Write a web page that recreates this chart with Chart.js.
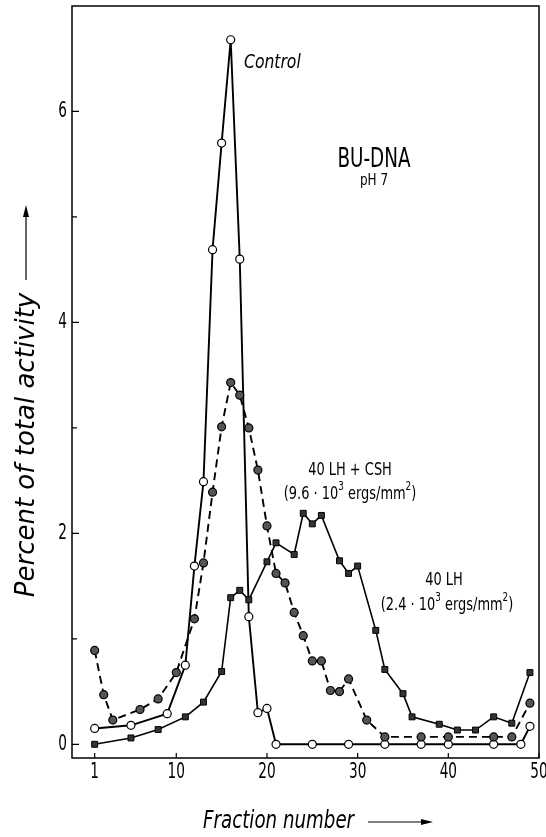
<!DOCTYPE html>
<html>
<head>
<meta charset="utf-8">
<script src="https://cdn.jsdelivr.net/npm/chart.js@4"></script>
<style>
  html, body { margin: 0; padding: 0; background: #fff; }
  #wrap { width: 546px; height: 837px; position: relative; }
</style>
</head>
<body>
<div id="wrap"><canvas id="c"></canvas></div>
<script>
// fraction numbers + percent of total activity
const controlX = [1, 5, 9, 11, 12, 13, 14, 15, 16, 17, 18, 19, 20, 21, 25, 29, 33, 37, 40, 45, 48, 49];
const controlY = [0.15, 0.18, 0.29, 0.75, 1.69, 2.49, 4.69, 5.70, 6.68, 4.60, 1.21, 0.30, 0.34, 0, 0, 0, 0, 0, 0, 0, 0, 0.17];

const csh40X = [1, 2, 3, 6, 8, 10, 12, 13, 14, 15, 16, 17, 18, 19, 20, 21, 22, 23, 24, 25, 26, 27, 28, 29, 31, 33, 37, 40, 45, 47, 49];
const csh40Y = [0.89, 0.47, 0.23, 0.33, 0.43, 0.68, 1.19, 1.72, 2.39, 3.01, 3.43, 3.31, 3.00, 2.60, 2.07, 1.62, 1.53, 1.25, 1.03, 0.79, 0.79, 0.51, 0.50, 0.62, 0.23, 0.07, 0.07, 0.07, 0.07, 0.07, 0.39];

const lh40X = [1, 5, 8, 11, 13, 15, 16, 17, 18, 20, 21, 23, 24, 25, 26, 28, 29, 30, 32, 33, 35, 36, 39, 41, 43, 45, 47, 49];
const lh40Y = [0.0, 0.06, 0.14, 0.26, 0.40, 0.69, 1.39, 1.46, 1.37, 1.73, 1.91, 1.80, 2.19, 2.09, 2.17, 1.74, 1.62, 1.69, 1.08, 0.71, 0.48, 0.26, 0.19, 0.135, 0.135, 0.26, 0.20, 0.68];

const xTicks = [1, 10, 20, 30, 40, 50];
const yTicks = [0, 2, 4, 6];
const yMinor = [1, 3, 5];

const FONT = '"DejaVu Sans", sans-serif';

const pts = (xs, ys) => xs.map((x, i) => ({ x, y: ys[i] }));

// condensed text: squeeze horizontally by sx
function txt(ctx, s, x, y, size, sx, align = 'center', style = '') {
  ctx.save();
  ctx.font = `${style} ${size}px ${FONT}`;
  ctx.textAlign = align;
  ctx.textBaseline = 'middle';
  ctx.translate(x, y);
  ctx.scale(sx, 1);
  ctx.fillText(s, 0, 0);
  ctx.restore();
}

// text with raised superscripts, centred on cx: segs = [text, isSup]
function richText(ctx, segs, cx, cy, size, sx) {
  ctx.save();
  ctx.textBaseline = 'middle';
  ctx.textAlign = 'left';
  let w = 0;
  segs.forEach(([t, sup]) => {
    ctx.font = `${sup ? size * 0.68 : size}px ${FONT}`;
    w += ctx.measureText(t).width;
  });
  ctx.translate(cx - w * sx / 2, cy);
  ctx.scale(sx, 1);
  let x = 0;
  segs.forEach(([t, sup]) => {
    ctx.font = `${sup ? size * 0.68 : size}px ${FONT}`;
    ctx.fillText(t, x, sup ? -size * 0.38 : 0);
    x += ctx.measureText(t).width;
  });
  ctx.restore();
}

const decor = {
  id: 'decor',
  afterDraw(chart) {
    const { ctx, chartArea: a, scales: { x, y } } = chart;
    ctx.save();
    ctx.strokeStyle = '#000';
    ctx.fillStyle = '#000';
    ctx.lineWidth = 1.5;
    ctx.strokeRect(a.left, a.top, a.right - a.left, a.bottom - a.top);

    // inward ticks + labels
    ctx.lineWidth = 1.2;
    ctx.beginPath();
    yTicks.forEach(v => { const p = y.getPixelForValue(v); ctx.moveTo(a.left, p); ctx.lineTo(a.left + 7, p); });
    yMinor.forEach(v => { const p = y.getPixelForValue(v); ctx.moveTo(a.left, p); ctx.lineTo(a.left + 5, p); });
    xTicks.forEach(v => { const p = x.getPixelForValue(v); ctx.moveTo(p, a.bottom); ctx.lineTo(p, a.bottom - 5); });
    ctx.stroke();
    yTicks.forEach(v => txt(ctx, String(v), a.left - 5, y.getPixelForValue(v), 21, 0.65, 'right'));
    xTicks.forEach(v => txt(ctx, String(v), x.getPixelForValue(v), a.bottom + 15, 21, 0.65));

    txt(ctx, 'Control', 244, 63, 20, 0.78, 'left', 'italic');

    txt(ctx, 'BU-DNA', 374, 160, 27, 0.68);
    txt(ctx, 'pH 7', 374, 181, 16, 0.75);

    txt(ctx, '40 LH + CSH', 350, 470, 18, 0.72);
    richText(ctx, [['(9.6 · 10', false], ['3', true], [' ergs/mm', false], ['2', true], [')', false]], 350, 494, 18, 0.72);
    txt(ctx, '40 LH', 444, 580, 18, 0.72);
    richText(ctx, [['(2.4 · 10', false], ['3', true], [' ergs/mm', false], ['2', true], [')', false]], 447, 605, 18, 0.72);

    // axis titles with arrows
    txt(ctx, 'Fraction number', 203, 822, 24, 0.76, 'left', 'italic');
    ctx.beginPath();
    ctx.moveTo(368, 822); ctx.lineTo(425, 822); ctx.stroke();
    ctx.beginPath();
    ctx.moveTo(433, 822); ctx.lineTo(421, 819); ctx.lineTo(421, 825); ctx.closePath(); ctx.fill();

    ctx.save();
    ctx.translate(27, 445);
    ctx.rotate(-Math.PI / 2);
    txt(ctx, 'Percent of total activity', 0, 0, 26, 1.0, 'center', 'italic');
    ctx.restore();
    ctx.beginPath();
    ctx.moveTo(26, 280); ctx.lineTo(26, 213); ctx.stroke();
    ctx.beginPath();
    ctx.moveTo(26, 205); ctx.lineTo(23, 217); ctx.lineTo(29, 217); ctx.closePath(); ctx.fill();
    ctx.restore();
  }
};

new Chart(document.getElementById('c'), {
  type: 'scatter',
  data: {
    datasets: [
      {
        label: '40 LH',
        data: pts(lh40X, lh40Y),
        showLine: true,
        borderColor: '#000',
        borderWidth: 1.6,
        pointStyle: 'rect',
        pointRadius: 4.2,
        pointBackgroundColor: '#333',
        pointBorderColor: '#000',
        pointBorderWidth: 1,
      },
      {
        label: '40 LH + CSH',
        data: pts(csh40X, csh40Y),
        showLine: true,
        borderColor: '#000',
        borderWidth: 1.9,
        borderDash: [8, 5],
        pointRadius: 4,
        pointBackgroundColor: '#555',
        pointBorderColor: '#000',
        pointBorderWidth: 1.2,
      },
      {
        label: 'Control',
        data: pts(controlX, controlY),
        showLine: true,
        borderColor: '#000',
        borderWidth: 1.9,
        pointRadius: 4,
        pointBackgroundColor: '#fff',
        pointBorderColor: '#000',
        pointBorderWidth: 1.2,
      },
    ],
  },
  options: {
    responsive: true,
    maintainAspectRatio: false,
    animation: false,
    layout: { padding: { top: 6, right: 7, left: 0, bottom: 0 } },
    plugins: { legend: { display: false }, tooltip: { enabled: false } },
    scales: {
      x: {
        type: 'linear',
        min: -1.5,
        max: 50,
        afterBuildTicks: s => { s.ticks = xTicks.map(v => ({ value: v })); },
        afterFit: s => { s.height = 79; },
        grid: { display: false, drawTicks: false },
        border: { display: false },
        ticks: { display: false },
      },
      y: {
        min: -0.13,
        max: 7.0,
        afterBuildTicks: s => { s.ticks = yTicks.map(v => ({ value: v })); },
        afterFit: s => { s.width = 72; },
        grid: { display: false, drawTicks: false },
        border: { display: false },
        ticks: { display: false },
      },
    },
  },
  plugins: [decor],
});
</script>
</body>
</html>
